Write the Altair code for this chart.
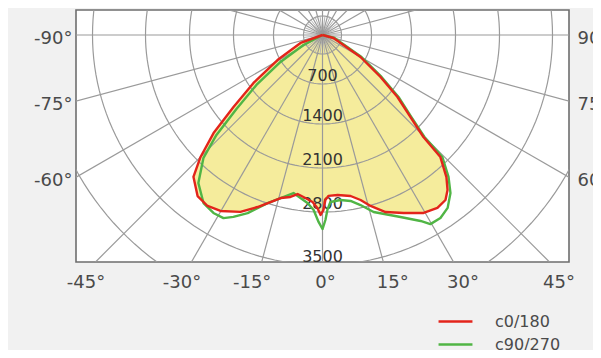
import math
import numpy as np
import pandas as pd
import altair as alt

# ---------------- data ----------------
# gamma angle (deg, 0 = straight down, + to the right) and luminous intensity (cd)
c0_angle = [-90, -70.0, -60.9, -55.2, -51.0, -48.0, -45.0, -42.3, -37.8, -33.9,
            -30.1, -24.9, -20.7, -17.3, -14.4, -11.2, -8.9, -6.0, -3.4, -1.7,
            -0.6, 0.3, 1.0, 2.1, 5.4, 9.9, 13.0, 15.7, 19.6, 24.5,
            29.6, 33.6, 36.7, 38.9, 41.1, 44.0, 44.7, 47.0, 50.4, 54.1,
            59.9, 74.7, 90]
c0_cd = [0, 334, 744, 1313, 1806, 2316, 2728, 2995, 3154, 3183,
         3149, 3038, 2891, 2767, 2662, 2611, 2545, 2592, 2646, 2736,
         2840, 2768, 2609, 2545, 2541, 2584, 2678, 2808, 2944, 3046,
         3166, 3205, 3180, 3092, 2952, 2684, 2267, 1898, 1532, 1096,
         627, 163, 0]

c90_angle = [-90, -62.2, -57.3, -52.9, -49.3, -46.7, -44.1, -40.0, -35.3, -31.5,
             -28.4, -26.1, -22.8, -18.1, -14.4, -10.4, -7.7, -5.1, -2.9, -1.2,
             0.0, 0.9, 1.6, 2.7, 6.2, 9.6, 12.6, 16.1, 23.2, 27.8,
             29.7, 32.8, 35.9, 39.0, 41.6, 44.5, 45.0, 47.3, 50.8, 54.6,
             60.6, 76.0, 90]
c90_cd = [0, 307, 716, 1292, 1790, 2302, 2705, 3013, 3182, 3219,
          3212, 3138, 3014, 2797, 2662, 2541, 2601, 2668, 2771, 2932,
          3025, 2906, 2768, 2644, 2624, 2662, 2756, 2895, 3077, 3239,
          3338, 3338, 3281, 3148, 2969, 2705, 2278, 1909, 1545, 1110,
          640, 177, 0]

series_names = ["c0/180", "c90/270"]
ring_values = [700, 1400, 2100, 2800, 3500, 4200]
ring_label_values = [700, 1400, 2100, 2800, 3500]
bottom_tick_deg = [-45, -30, -15, 0, 15, 30, 45]
side_tick_deg = [90, 75, 60]

# ---------------- layout / style ----------------
RADIAL_CD = [0, 700, 1400, 2100, 2800, 3500, 4200]
RADIAL_PX = [0, 49, 89, 133, 177, 230, 281]
HUB_PX = 19
HALF_W = 246.5
TOP = 25
BOTTOM = 227
SPOKE_LEN = 420
LABEL_SHIFT = 9.5          # bottom labels sit a little outward of their rays
FONT = "DejaVu Sans"
GRID = "#9a9a9a"
HUB_GRID = "#b5b5b5"
TEXT = "#4a4a4a"
COLORS = ["#e3241b", "#50b545"]
FILL = "#f5ec9c"


def radius(cd):
    return np.interp(np.asarray(cd, dtype=float), RADIAL_CD, RADIAL_PX)


def polar_df(angles, cds, name):
    a = np.radians(angles)
    r = radius(cds)
    return pd.DataFrame({"x": r * np.sin(a), "y": -r * np.cos(a),
                         "i": np.arange(len(angles)), "series": name})


c0_df = polar_df(c0_angle, c0_cd, series_names[0])
c90_df = polar_df(c90_angle, c90_cd, series_names[1])

# rings
ring_rows = []
t = np.radians(np.arange(0, 361, 2))
for k, rp in enumerate([HUB_PX] + list(radius(ring_values))):
    for j, tt in enumerate(t):
        ring_rows.append({"ring": k, "k": j, "x": rp * np.sin(tt), "y": -rp * np.cos(tt)})
rings_df = pd.DataFrame(ring_rows)

# spokes (every 15 deg full length, finer ones only inside the hub)
major_rows, hub_rows = [], []
for a10 in range(0, 3600, 75):
    a = a10 / 10.0
    ar = math.radians(a)
    if a10 % 150 == 0:
        major_rows.append({"x0": 0.0, "y0": 0.0, "x2": SPOKE_LEN * math.sin(ar),
                           "y2": -SPOKE_LEN * math.cos(ar)})
    else:
        hub_rows.append({"x0": 0.0, "y0": 0.0, "x2": HUB_PX * math.sin(ar),
                         "y2": -HUB_PX * math.cos(ar)})
major_df = pd.DataFrame(major_rows)
hub_df = pd.DataFrame(hub_rows)

lab_r = radius(ring_label_values)
labels_df = pd.DataFrame({"x": 0.0, "y": -lab_r, "label": [str(v) for v in ring_label_values]})

bx = [BOTTOM * math.tan(math.radians(d)) + (LABEL_SHIFT if d > 0 else (-LABEL_SHIFT if d < 0 else 3))
      for d in bottom_tick_deg]
bottom_df = pd.DataFrame({"x": bx, "y": -BOTTOM,
                          "label": [f"{d}°" for d in bottom_tick_deg]})

xs = alt.Scale(domain=[-HALF_W, HALF_W], nice=False, zero=False)
ys = alt.Scale(domain=[-BOTTOM, TOP], nice=False, zero=False)

left_axis = alt.Axis(
    values=[-HALF_W * math.tan(math.radians(90 - d)) for d in side_tick_deg],
    labelExpr=f"'-' + (90 - round(atan(-datum.value/{HALF_W})*180/PI)) + '°'",
    orient="left", domain=False, ticks=False, grid=False, title=None,
    labelPadding=4, labelOffset=3, labelFlush=False, labelOverlap=False,
)
right_axis = alt.Axis(
    values=[-HALF_W * math.tan(math.radians(90 - d)) for d in side_tick_deg],
    labelExpr=f"(90 - round(atan(-datum.value/{HALF_W})*180/PI)) + '°'",
    orient="right", domain=False, ticks=False, grid=False, title=None,
    labelPadding=8, labelOffset=3, labelFlush=False, labelOverlap=False,
)


def X(field="x"):
    return alt.X(f"{field}:Q", scale=xs, axis=None)


def Y(field="y", axis=None):
    return alt.Y(f"{field}:Q", scale=ys, axis=axis)


fill = alt.Chart(c0_df).mark_line(
    fill=FILL, strokeOpacity=0, interpolate="linear-closed"
).encode(x=X(), y=Y(axis=left_axis), order="i:Q")

rings = alt.Chart(rings_df).mark_line(stroke=GRID, strokeWidth=1.2, clip=True).encode(
    x=X(), y=Y(), detail="ring:N", order="k:Q")

hub = alt.Chart(hub_df).mark_rule(stroke=HUB_GRID, strokeWidth=1.0).encode(
    x=X("x0"), y=Y("y0"), x2="x2:Q", y2="y2:Q")

spokes = alt.Chart(major_df).mark_rule(stroke=GRID, strokeWidth=1.2, clip=True).encode(
    x=X("x0"), y=Y("y0", axis=right_axis), x2="x2:Q", y2="y2:Q")

labels = alt.Chart(labels_df).mark_text(
    baseline="alphabetic", dy=-3, fontSize=16, font=FONT, color="#333333"
).encode(x=X(), y=Y(), text="label:N")

bottom_labels = alt.Chart(bottom_df).mark_text(
    baseline="middle", dy=21, fontSize=18, font=FONT, color=TEXT
).encode(x=X(), y=Y(), text="label:N")

color_scale = alt.Scale(domain=series_names, range=COLORS)
legend = alt.Legend(
    orient="none", legendX=361, legendY=303, title=None,
    symbolType="stroke", symbolSize=1150, symbolStrokeWidth=2.5,
    labelFont=FONT, labelFontSize=16, labelColor=TEXT, labelOffset=21,
    clipHeight=17, rowPadding=6, padding=0,
)

green = alt.Chart(c90_df).mark_line(strokeWidth=2.4, strokeJoin="round").encode(
    x=X(), y=Y(), order="i:Q",
    color=alt.Color("series:N", scale=color_scale, legend=legend))
red = alt.Chart(c0_df).mark_line(strokeWidth=2.4, strokeJoin="round").encode(
    x=X(), y=Y(), order="i:Q",
    color=alt.Color("series:N", scale=color_scale, legend=legend))

chart = alt.layer(fill, rings, hub, spokes, labels, bottom_labels, green, red).resolve_axis(
    y="independent"
).properties(
    width=493, height=252,
    autosize=alt.AutoSizeParams(type="none"),
    padding={"left": 68, "top": 2, "right": 24, "bottom": 88},
    background="#f1f1f1",
).configure_view(
    stroke="#6e6e6e", strokeWidth=1.6, fill="white"
).configure_axis(
    labelFont=FONT, labelFontSize=18, labelColor=TEXT
)

chart.save("out.html", embed_options={"renderer": "svg", "actions": False})
